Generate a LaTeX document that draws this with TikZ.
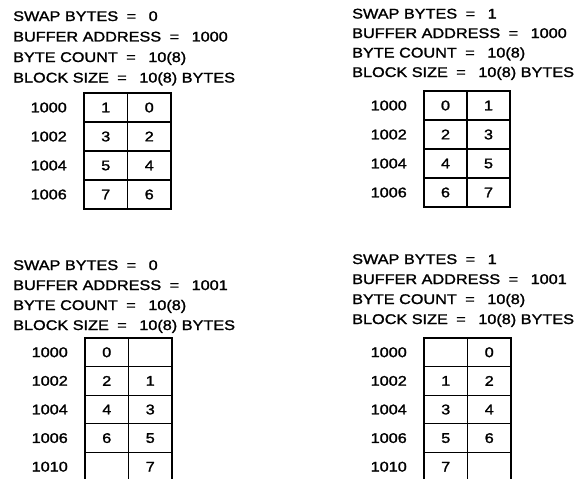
\documentclass[tikz,border=0pt]{standalone}
\usepackage{fontspec}
\setmainfont{Liberation Sans}[FakeStretch=1.16, FakeBold=1.5]
\usetikzlibrary{positioning}

\newcommand{\is}{\hspace{.6em}=\hspace{.9em}}

\tikzset{
  head/.style={anchor=base west, inner sep=0pt},
  addr/.style={inner sep=0pt},
  cell/.style={draw, line width=1.3pt, minimum width=43.5pt, minimum height=29pt, inner sep=0pt, outer sep=0pt},
  frame/.style={line width=2pt}
}

\begin{document}
\begin{tikzpicture}[x=1pt, y=-1pt, font=\fontsize{14}{16}\selectfont]
        \useasboundingbox (0,0) rectangle (584,479);

        % Swap bytes = 0, even buffer address
        \foreach \t [count=\k] in {{SWAP BYTES\is 0}, {BUFFER ADDRESS\is 1000}, {BYTE COUNT\is 10(8)}, {BLOCK SIZE\is 10(8) BYTES}}
            \node [head] (ta\k) at (13, 0.5+20.5*\k) {\t};
        \foreach \ad/\hi/\lo [count=\r] in {1000/1/0, 1002/3/2, 1004/5/4, 1006/7/6} {
            \node [cell] (ah\r) at (105.75, 78.5+29*\r) {\hi};
            \node [cell, right=0pt of ah\r] (al\r) {\lo};
            \node [addr, left=17pt of ah\r] (aa\r) {\ad};
        }
        \draw [frame] (ah1.north west) rectangle (al4.south east);

        % Swap bytes = 1, even buffer address
        \foreach \t [count=\k] in {{SWAP BYTES\is 1}, {BUFFER ADDRESS\is 1000}, {BYTE COUNT\is 10(8)}, {BLOCK SIZE\is 10(8) BYTES}}
            \node [head] (tb\k) at (352, -1+19.5*\k) {\t};
        \foreach \ad/\hi/\lo [count=\r] in {1000/0/1, 1002/2/3, 1004/4/5, 1006/6/7} {
            \node [cell, minimum width=43pt] (bh\r) at (445.5, 76.5+29*\r) {\hi};
            \node [cell, minimum width=43pt, right=0pt of bh\r] (bl\r) {\lo};
            \node [addr, left=17pt of bh\r] (ba\r) {\ad};
        }
        \draw [frame] (bh1.north west) rectangle (bl4.south east);

        % Swap bytes = 0, odd buffer address
        \foreach \t [count=\k] in {{SWAP BYTES\is 0}, {BUFFER ADDRESS\is 1001}, {BYTE COUNT\is 10(8)}, {BLOCK SIZE\is 10(8) BYTES}}
            \node [head] (tc\k) at (13, 250+20*\k) {\t};
        \foreach \ad/\hi/\lo [count=\r] in {1000/0/, 1002/2/1, 1004/4/3, 1006/6/5, 1010//7} {
            \node [cell, minimum height=28.6pt] (ch\r) at (106.75, 323.7+28.6*\r) {\hi};
            \node [cell, minimum height=28.6pt, right=0pt of ch\r] (cl\r) {\lo};
            \node [addr, left=17pt of ch\r] (ca\r) {\ad};
        }
        \draw [frame] (ch1.north west) rectangle (cl5.south east);

        % Swap bytes = 1, odd buffer address
        \foreach \t [count=\k] in {{SWAP BYTES\is 1}, {BUFFER ADDRESS\is 1001}, {BYTE COUNT\is 10(8)}, {BLOCK SIZE\is 10(8) BYTES}}
            \node [head] (td\k) at (352, 244+20*\k) {\t};
        \foreach \ad/\hi/\lo [count=\r] in {1000//0, 1002/1/2, 1004/3/4, 1006/5/6, 1010/7/} {
            \node [cell, minimum height=28.6pt] (dh\r) at (445.75, 323.7+28.6*\r) {\hi};
            \node [cell, minimum height=28.6pt, right=0pt of dh\r] (dl\r) {\lo};
            \node [addr, left=17pt of dh\r] (da\r) {\ad};
        }
        \draw [frame] (dh1.north west) rectangle (dl5.south east);
    \end{tikzpicture}
\end{document}
